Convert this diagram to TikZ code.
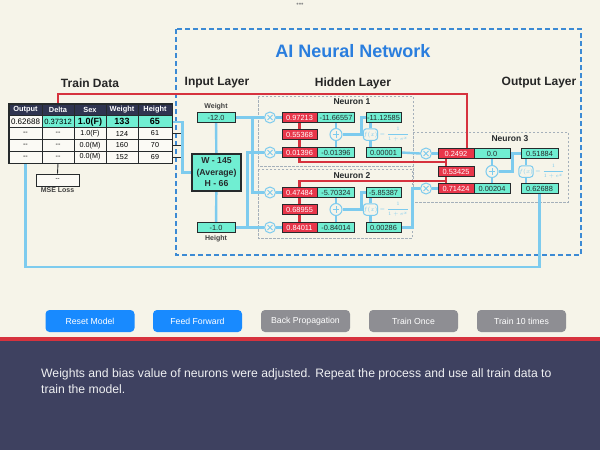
\documentclass[tikz,border=0pt]{standalone}
\usepackage{amsmath}
\usepackage{fontspec}
\setmainfont{Liberation Sans}
\usepackage{tikz}
\usetikzlibrary{positioning,calc}
\definecolor{paperCream}{RGB}{246,244,233}
\definecolor{nnTeal}{RGB}{112,238,210}
\definecolor{nnRed}{RGB}{232,54,74}
\definecolor{edgeDark}{RGB}{38,42,44}
\definecolor{wireBlue}{RGB}{125,203,238}
\definecolor{lossRed}{RGB}{214,50,62}
\definecolor{frameBlue}{RGB}{60,138,212}
\definecolor{titleBlue}{RGB}{42,126,222}
\definecolor{neuronGray}{RGB}{165,176,186}
\definecolor{headNavy}{RGB}{47,52,80}
\definecolor{panelNavy}{RGB}{62,65,96}
\definecolor{btnBlue}{RGB}{24,138,255}
\definecolor{btnGray}{RGB}{142,142,147}

\pgfdeclarelayer{paper}
\pgfdeclarelayer{wires}
\pgfsetlayers{paper,wires,main}

\tikzset{
  valbox/.style={draw=edgeDark, line width=1pt, minimum width=35pt, minimum height=9.5pt, inner sep=0pt, font=\fontsize{7.4}{8}\selectfont},
  wbox/.style={valbox, fill=nnRed, text=white},
  tbox/.style={valbox, fill=nnTeal, text=edgeDark},
  mulop/.style={circle, draw=wireBlue, line width=1pt, fill=paperCream, minimum size=11pt, inner sep=0pt,
    path picture={\draw[wireBlue, line width=0.9pt]
      ([shift={(-2.5pt,-2.5pt)}]path picture bounding box.center) -- ([shift={(2.5pt,2.5pt)}]path picture bounding box.center)
      ([shift={(-2.5pt,2.5pt)}]path picture bounding box.center) -- ([shift={(2.5pt,-2.5pt)}]path picture bounding box.center);}},
  sumop/.style={circle, draw=wireBlue, line width=1pt, fill=paperCream, minimum size=12pt, inner sep=0pt,
    path picture={\draw[wireBlue, line width=1pt]
      ([xshift=-3.3pt]path picture bounding box.center) -- ([xshift=3.3pt]path picture bounding box.center)
      ([yshift=-3.3pt]path picture bounding box.center) -- ([yshift=3.3pt]path picture bounding box.center);}},
  fxop/.style={draw=wireBlue, line width=1pt, fill=paperCream, rounded corners=3pt, minimum size=11.5pt, inner sep=0pt, text=wireBlue, font=\fontsize{6.5}{7}\selectfont},
  fxeq/.style={text=wireBlue, inner sep=0pt, font=\fontsize{5.5}{6}\selectfont},
  wire/.style={wireBlue, line width=2.4pt},
  redwire/.style={lossRed, line width=2.2pt},
  stub/.style={edgeDark, line width=0.9pt},
  nframe/.style={neuronGray, line width=0.9pt, dash pattern=on 2.5pt off 1.5pt},
  nlbl/.style={font=\bfseries\fontsize{8.5}{9}\selectfont, text=edgeDark},
  layerlbl/.style={font=\bfseries\fontsize{12}{13}\selectfont, text=black!85},
  lbl/.style={font=\bfseries\fontsize{7}{8}\selectfont, text=black!75, inner sep=1pt},
  tcell/.style={draw=edgeDark, line width=0.7pt, minimum height=11.8pt, inner sep=0pt, fill=white!55!paperCream, font=\fontsize{7.2}{8}\selectfont},
  hcell/.style={tcell, fill=headNavy, text=white, font=\bfseries\fontsize{7.4}{8}\selectfont},
  btn/.style={rounded corners=4pt, minimum width=89pt, minimum height=22pt, inner sep=0pt, text=white, font=\fontsize{8.7}{9}\selectfont}
}

\begin{document}
\begin{tikzpicture}[x=1pt, y=-1pt]
  \useasboundingbox (0,0) rectangle (600,450);
  \begin{pgfonlayer}{paper}
    % Page
    \fill[paperCream] (0,0) rectangle (600,341);
    \fill[lossRed] (0,336.5) rectangle (600,341);
    \fill[panelNavy] (0,341) rectangle (600,450);
    % Frames
    \draw[frameBlue, line width=1.3pt, dash pattern=on 5pt off 3pt] (176,29) rectangle (581,255);
    \draw[nframe] (258,96) rectangle (413,166);
    \draw[nframe] (258,169) rectangle (412,238);
    \draw[nframe] (413,132) rectangle (568,202);
  \end{pgfonlayer}

  \node[text=black!45, font=\fontsize{7}{7}\selectfont] (dots) at (300,5) {•••};
  \node[font=\bfseries\fontsize{18}{20}\selectfont, text=titleBlue] (title) at (353,51) {AI Neural Network};

  % Headings
  \node[layerlbl] (trainlbl) at (90,83) {Train Data};
  \node[layerlbl] (inputlbl) at (217,83) {Input Layer};
  \node[layerlbl] (hiddenlbl) at (353,83) {Hidden Layer};
  \node[layerlbl] (outputlbl) at (539,83) {Output Layer};

  % Train table
  \node[hcell, minimum width=33pt] (h1) at (25.5,110) {Output};
  \node[hcell, minimum width=32pt] (h2) at (58,110) {Delta};
  \node[hcell, minimum width=32pt] (h3) at (90,110) {Sex};
  \node[hcell, minimum width=32pt] (h4) at (122,110) {Weight};
  \node[hcell, minimum width=34pt] (h5) at (155,110) {Height};
  \node[tcell, minimum width=33pt, font=\fontsize{8}{9}\selectfont] (r1c1) at (25.5,121.7) {0.62688};
  \node[tcell, minimum width=32pt, fill=nnTeal, font=\fontsize{7.6}{9}\selectfont] (r1c2) at (58,121.7) {0.37312};
  \node[tcell, minimum width=32pt, fill=nnTeal, font=\bfseries\fontsize{9}{10}\selectfont] (r1c3) at (90,121.7) {1.0(F)};
  \node[tcell, minimum width=32pt, fill=nnTeal, font=\bfseries\fontsize{9}{10}\selectfont] (r1c4) at (122,121.7) {133};
  \node[tcell, minimum width=34pt, fill=nnTeal, font=\bfseries\fontsize{9}{10}\selectfont] (r1c5) at (155,121.7) {65};
  \node[tcell, minimum width=33pt] (r2c1) at (25.5,133.5) {-{}-};
  \node[tcell, minimum width=32pt] (r2c2) at (58,133.5) {-{}-};
  \node[tcell, minimum width=32pt] (r2c3) at (90,133.5) {1.0(F)};
  \node[tcell, minimum width=32pt] (r2c4) at (122,133.5) {124};
  \node[tcell, minimum width=34pt] (r2c5) at (155,133.5) {61};
  \node[tcell, minimum width=33pt] (r3c1) at (25.5,145.3) {-{}-};
  \node[tcell, minimum width=32pt] (r3c2) at (58,145.3) {-{}-};
  \node[tcell, minimum width=32pt] (r3c3) at (90,145.3) {0.0(M)};
  \node[tcell, minimum width=32pt] (r3c4) at (122,145.3) {160};
  \node[tcell, minimum width=34pt] (r3c5) at (155,145.3) {70};
  \node[tcell, minimum width=33pt] (r4c1) at (25.5,157.1) {-{}-};
  \node[tcell, minimum width=32pt] (r4c2) at (58,157.1) {-{}-};
  \node[tcell, minimum width=32pt] (r4c3) at (90,157.1) {0.0(M)};
  \node[tcell, minimum width=32pt] (r4c4) at (122,157.1) {152};
  \node[tcell, minimum width=34pt] (r4c5) at (155,157.1) {69};
  \draw[edgeDark, line width=1.3pt] (h1.north west) rectangle (r4c5.south east);
  % MSE
  \node[tcell, minimum width=43pt, minimum height=12pt, font=\fontsize{6}{7}\selectfont] (mse) at (57.5,180) {-{}-};
  \node[lbl, below=0.5pt of mse] (mselbl) {MSE Loss};

  % Input layer
  \node[tbox, minimum width=38pt, minimum height=10pt] (wgt) at (216,117.5) {-12.0};
  \node[lbl, above=1pt of wgt] (wgtlbl) {Weight};
  \node[draw=edgeDark, line width=1.1pt, fill=nnTeal, minimum width=49pt, minimum height=37pt, inner sep=0pt, align=center,
        font=\bfseries\fontsize{8.7}{11.5}\selectfont, text=edgeDark] (avg) at (216.5,172.5) {W - 145\\(Average)\\H - 66};
  \node[tbox, minimum width=38pt, minimum height=10pt] (hgt) at (216,227.5) {-1.0};
  \node[lbl, below=1pt of hgt] (hgtlbl) {Height};

  % Neuron 1
  \node[nlbl] (n1lbl) at (352,101.5) {Neuron 1};
  \node[mulop] (m1a) at (270,117.5) {};
  \node[mulop] (m1b) at (270,152.5) {};
  \node[wbox] (n1w1) at (299.5,117.5) {0.97213};
  \node[wbox] (n1w2) at (299.5,134.5) {0.55368};
  \node[wbox] (n1w3) at (299.5,152.5) {0.01396};
  \node[tbox, minimum width=37pt] (n1p1) at (336,117.5) {-11.66557};
  \node[sumop] (n1sum) at (336,134.5) {};
  \node[tbox, minimum width=37pt] (n1p2) at (336,152.5) {-0.01396};
  \node[tbox] (n1z) at (383.5,117.5) {-11.12585};
  \node[fxop] (n1f) at (370.5,134.5) {$f(x)$};
  \node[fxeq, right=1.5pt of n1f] (n1eq) {$=\dfrac{1}{1+e^{x}}$};
  \node[tbox] (n1a) at (383.5,152.5) {0.00001};

  % Neuron 2
  \node[nlbl] (n2lbl) at (352,175.5) {Neuron 2};
  \node[mulop] (m2a) at (270,192.5) {};
  \node[mulop] (m2b) at (270,227.5) {};
  \node[wbox] (n2w1) at (299.5,192.5) {0.47484};
  \node[wbox] (n2w2) at (299.5,209.5) {0.68955};
  \node[wbox] (n2w3) at (299.5,227.5) {0.84011};
  \node[tbox, minimum width=37pt] (n2p1) at (336,192.5) {-5.70324};
  \node[sumop] (n2sum) at (336,209.5) {};
  \node[tbox, minimum width=37pt] (n2p2) at (336,227.5) {-0.84014};
  \node[tbox] (n2z) at (383.5,192.5) {-5.85387};
  \node[fxop] (n2f) at (370.5,209.5) {$f(x)$};
  \node[fxeq, right=1.5pt of n2f] (n2eq) {$=\dfrac{1}{1+e^{x}}$};
  \node[tbox] (n2a) at (383.5,227.5) {0.00286};

  % Neuron 3
  \node[nlbl] (n3lbl) at (510,138.5) {Neuron 3};
  \node[mulop] (m3a) at (426,153.5) {};
  \node[mulop] (m3b) at (426,188.5) {};
  \node[wbox, minimum width=36pt] (n3w1) at (456,153.5) {0.2492};
  \node[wbox, minimum width=36pt] (n3w2) at (456,171.5) {0.53425};
  \node[wbox, minimum width=36pt] (n3w3) at (456,188.5) {0.71424};
  \node[tbox, minimum width=36pt] (n3b1) at (492,153.5) {0.0};
  \node[sumop] (n3sum) at (492,171.5) {};
  \node[tbox, minimum width=36pt] (n3b2) at (492,188.5) {0.00204};
  \node[tbox, minimum width=37pt] (n3z) at (539.5,153.5) {0.51884};
  \node[fxop] (n3f) at (526,171.5) {$f(x)$};
  \node[fxeq, right=1.5pt of n3f] (n3eq) {$=\dfrac{1}{1+e^{x}}$};
  \node[tbox, minimum width=37pt] (n3a) at (539.5,188.5) {0.62688};

  \coordinate (redturn) at (467,94);
  \coordinate (n3tap1) at (446,162);
  \coordinate (n3tap2) at (446,181);

  \begin{pgfonlayer}{wires}
    % Input wiring
    \draw[wire] (r1c5.east) -- ++(10,0) |- (avg.west);
    \draw[stub] (r2c5.east) -- ++(9,0);
    \draw[stub] (r3c5.east) -- ++(9,0);
    \draw[stub] (r4c5.east) -- ++(9,0);
    \draw[stub] (r4c2.south) -- (mse.north);
    \draw[wire] (wgt) -- (avg) -- (hgt);
    \draw[wire] (wgt.east) -- (m1a.west);
    \draw[wire] ([xshift=17pt]wgt.east) |- (m2a.west);
    \draw[wire] (hgt.east) -- (m2b.west);
    \draw[wire] ([xshift=12pt]hgt.east) |- (m1b.west);
    % Neuron 1
    \draw[wire] (m1a) -- (n1w1);
    \draw[wire] (m1b) -- (n1w3);
    \draw[redwire] (n1w1) -- (n1w2) -- (n1w3);
    \draw[wire] (n1p1) -- (n1sum) -- (n1p2);
    \draw[wire] (n1sum.east) -| ([xshift=-4pt]n1z.west) -- (n1z.west);
    \draw[wire] (n1f.north |- n1z.south) -- (n1f) -- (n1f.south |- n1a.north);
    \draw[wire] (n1a.east) -- (m3a.west);
    % Neuron 2
    \draw[wire] (m2a) -- (n2w1);
    \draw[wire] (m2b) -- (n2w3);
    \draw[redwire] (n2w1) -- (n2w2) -- (n2w3);
    \draw[wire] (n2p1) -- (n2sum) -- (n2p2);
    \draw[wire] (n2sum.east) -| ([xshift=-4pt]n2z.west) -- (n2z.west);
    \draw[wire] (n2f.north |- n2z.south) -- (n2f) -- (n2f.south |- n2a.north);
    \draw[wire] (n2a.east) -- ++(11,0) |- (m3b.west);
    % Neuron 3
    \draw[wire] (m3a) -- (n3w1);
    \draw[wire] (m3b) -- (n3w3);
    \draw[wire] (n3b1) -- (n3sum) -- (n3b2);
    \draw[wire] (n3sum.east) -| ([xshift=-8pt]n3z.west) -- (n3z.west);
    \draw[wire] (n3f.north |- n3z.south) -- (n3f) -- (n3f.south |- n3a.north);
    \draw[wire] (n3a.south) -- ++(0,73) -| (r4c1.south);
    % Delta back to weights
    \draw[redwire] (h2.north) |- (redturn) -- (redturn |- n3w1.north);
    \draw[redwire] ([xshift=-10pt]n3w1.south) -- ([xshift=-10pt]n3w3.north);
    \draw[redwire] (n1w3.south) |- (n3tap1);
    \draw[redwire] (n2w1.north) |- (n3tap2);
  \end{pgfonlayer}

  % Buttons
  \node[btn, fill=btnBlue] (reset) at (90,321) {Reset Model};
  \node[btn, fill=btnBlue] (feed) at (197.5,321) {Feed Forward};
  \node[btn, fill=btnGray] (back) at (305.5,321) {Back Propagation};
  \node[btn, fill=btnGray] (once) at (413.5,321) {Train Once};
  \node[btn, fill=btnGray] (ten) at (521.5,321) {Train 10 times};

  % Message
  \node[anchor=north west, align=left, inner sep=0pt, text=white!92!panelNavy, font=\fontsize{12.2}{16.5}\selectfont] (msg) at (41,368)
    {Weights and bias value of neurons were adjusted. Repeat the process and use all train data to\\train the model.};
\end{tikzpicture}
\end{document}
